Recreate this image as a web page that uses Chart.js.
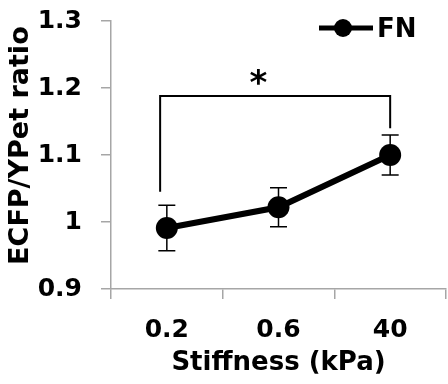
<!DOCTYPE html>
<html>
<head>
<title>ECFP/YPet ratio vs stiffness</title>
<script src="https://cdn.jsdelivr.net/npm/chart.js@4"></script>
<style>body{margin:0;background:#fff}</style>
</head>
<body>
<canvas id="ratioChart" width="448" height="384"></canvas>
<script>
// categories (substrate stiffness) and mean ratio with error
var stiffness = ['0.2', '0.6', '40'];
var ratioFN = [0.991, 1.022, 1.100];
var errFN = [0.034, 0.029, 0.030];
var yTicks = [0.9, 1.0, 1.1, 1.2, 1.3];
var yTickLabels = ['0.9', '1', '1.1', '1.2', '1.3'];
// significance bracket between 0.2 and 40 kPa
var bracketX = [-0.06, -0.06, 2, 2];
var bracketY = [1.045, 1.188, 1.188, 1.14];
var starX = 0.82;
var starY = 1.216;

var FONT = '"DejaVu Sans", sans-serif';
var AXIS = '#a6a6a6';

// error bars, drawn under the markers
var errorBars = {
  id: 'errorBars',
  beforeDatasetsDraw: function(chart) {
    var ctx = chart.ctx, y = chart.scales.y;
    var meta = chart.getDatasetMeta(0);
    ctx.save();
    ctx.strokeStyle = '#000';
    ctx.lineWidth = 1.5;
    meta.data.forEach(function(pt, i) {
      var top = y.getPixelForValue(ratioFN[i] + errFN[i]);
      var bot = y.getPixelForValue(ratioFN[i] - errFN[i]);
      ctx.beginPath();
      ctx.moveTo(pt.x, top); ctx.lineTo(pt.x, bot);
      ctx.moveTo(pt.x - 8.5, top); ctx.lineTo(pt.x + 8.5, top);
      ctx.moveTo(pt.x - 8.5, bot); ctx.lineTo(pt.x + 8.5, bot);
      ctx.stroke();
    });
    ctx.restore();
  }
};

// asterisk + legend
var extras = {
  id: 'extras',
  afterDraw: function(chart) {
    var ctx = chart.ctx;
    ctx.save();
    ctx.fillStyle = '#000';
    ctx.font = 'bold 34px ' + FONT;
    ctx.textAlign = 'center';
    ctx.textBaseline = 'alphabetic';
    var m = ctx.measureText('*');
    var cy = chart.scales.y.getPixelForValue(starY);
    ctx.fillText('*', chart.scales.x2.getPixelForValue(starX), cy + (m.actualBoundingBoxAscent - m.actualBoundingBoxDescent) / 2);

    // legend entry
    var ds = chart.data.datasets[0];
    ctx.strokeStyle = '#000';
    ctx.lineWidth = 5;
    ctx.beginPath();
    ctx.moveTo(319, 28); ctx.lineTo(373, 28);
    ctx.stroke();
    ctx.beginPath();
    ctx.arc(343, 28, 9, 0, Math.PI * 2);
    ctx.fill();
    ctx.font = 'bold 26px ' + FONT;
    ctx.textAlign = 'left';
    ctx.fillText(ds.label, 377, 37);
    ctx.restore();
  }
};

var ctx = document.getElementById('ratioChart').getContext('2d');
new Chart(ctx, {
  type: 'line',
  data: {
    labels: stiffness,
    datasets: [{
      label: 'FN',
      data: ratioFN,
      borderColor: '#000',
      backgroundColor: '#000',
      borderWidth: 6,
      pointRadius: 11,
      pointBorderWidth: 0,
      pointBackgroundColor: '#000',
      tension: 0,
      xAxisID: 'x'
    }, {
      label: 'bracket',
      data: bracketX.map(function(x, i) { return {x: x, y: bracketY[i]}; }),
      borderColor: '#000',
      borderWidth: 2,
      pointRadius: 0,
      tension: 0,
      xAxisID: 'x2',
      clip: false
    }]
  },
  options: {
    responsive: false,
    animation: false,
    devicePixelRatio: 1,
    layout: { autoPadding: false, padding: { top: 21, right: 2, left: 0, bottom: 0 } },
    plugins: { legend: { display: false }, tooltip: { enabled: false } },
    scales: {
      x: {
        type: 'category',
        offset: true,
        grid: { offset: true, drawOnChartArea: false, tickLength: 10, color: AXIS, lineWidth: 1.5 },
        border: { color: AXIS, width: 1.5 },
        ticks: { color: '#000', font: { family: FONT, size: 25, weight: 'bold' }, padding: 16 },
        title: { display: true, text: 'Stiffness (kPa)', color: '#000', font: { family: FONT, size: 26, weight: 'bold' }, padding: { top: 0, bottom: 5 } },
        afterFit: function(s) { s.height = 95; s.paddingLeft = 0; s.paddingRight = 0; }
      },
      x2: { type: 'linear', display: false, min: -0.5, max: 2.5 },
      y: {
        min: 0.9,
        max: 1.3,
        afterBuildTicks: function(s) { s.ticks = yTicks.map(function(v) { return {value: v}; }); },
        grid: { drawOnChartArea: false, tickLength: 10, color: AXIS, lineWidth: 1.5 },
        border: { color: AXIS, width: 1.5 },
        ticks: {
          color: '#000',
          font: { family: FONT, size: 25, weight: 'bold' },
          padding: 19,
          callback: function(v, i) { return yTickLabels[i]; }
        },
        title: { display: true, text: '  ECFP/YPet ratio', color: '#000', font: { family: FONT, size: 27, weight: 'bold' }, padding: { top: 5, bottom: 0 } },
        afterFit: function(s) { s.width = 111; s.paddingTop = 0; s.paddingBottom = 0; }
      }
    }
  },
  plugins: [errorBars, extras]
});
</script>
</body>
</html>
